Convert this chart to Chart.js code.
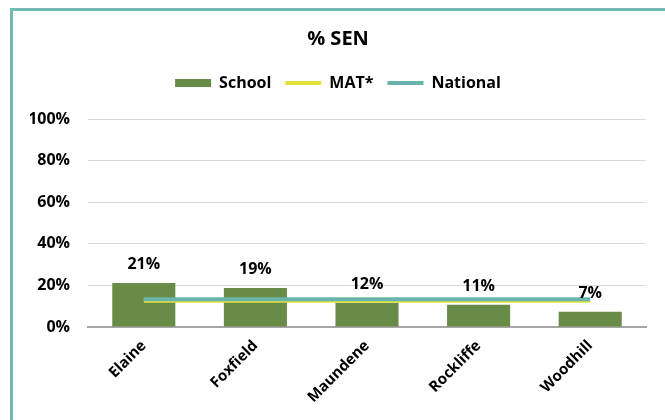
<!DOCTYPE html>
<html>
<head>
<meta charset="utf-8">
<script src="https://cdn.jsdelivr.net/npm/chart.js@4/dist/chart.umd.min.js"></script>
<style>
  html, body { margin: 0; padding: 0; background: #fff; }
  #wrap { position: relative; width: 665px; height: 420px; overflow: hidden; }
  #frame { position: absolute; left: 10px; top: 8px; width: 660px; height: 440px; border: 3px solid #72bab3; box-sizing: border-box; }
  #chart { position: absolute; left: 0; top: 0; }
</style>
</head>
<body>
<div id="wrap">
  <div id="frame"></div>
  <canvas id="chart" width="665" height="420"></canvas>
</div>
<script>
const categories = ['Elaine', 'Foxfield', 'Maundene', 'Rockliffe', 'Woodhill'];
const schoolValues = [21.2, 18.8, 11.6, 10.7, 7.3];
const matValues = [12.6, 12.6, 12.6, 12.6, 12.6];
const nationalValues = [13.3, 13.3, 13.3, 13.3, 13.3];
const yTicks = [0, 20, 40, 60, 80, 100];

const font = '"Open Sans", "DejaVu Sans", sans-serif';

// value labels above the bars
const barLabels = {
  id: 'barLabels',
  afterDatasetsDraw(chart) {
    const meta = chart.getDatasetMeta(0);
    const ctx = chart.ctx;
    ctx.save();
    ctx.font = 'bold 16px ' + font;
    ctx.fillStyle = '#000';
    ctx.textAlign = 'center';
    ctx.textBaseline = 'middle';
    meta.data.forEach((bar, i) => {
      ctx.fillText(Math.round(schoolValues[i]) + '%', bar.x, bar.y - 18);
    });
    ctx.restore();
  }
};

// extra room under the legend
const legendGap = {
  id: 'legendGap',
  beforeInit(chart) {
    const fit = chart.legend.fit;
    chart.legend.fit = function() {
      fit.bind(chart.legend)();
      this.height += 18;
    };
  }
};

new Chart(document.getElementById('chart'), {
  data: {
    labels: categories,
    datasets: [
      {
        type: 'bar',
        label: 'School',
        data: schoolValues,
        backgroundColor: '#688b47',
        borderWidth: 0,
        barPercentage: 0.565,
        categoryPercentage: 1,
        pointStyle: 'rect',
        order: 2
      },
      {
        type: 'line',
        label: 'MAT*',
        data: matValues,
        borderColor: '#e2e23a',
        backgroundColor: '#e2e23a',
        borderWidth: 4,
        pointRadius: 0,
        pointStyle: 'line',
        order: 1
      },
      {
        type: 'line',
        label: 'National',
        data: nationalValues,
        borderColor: '#68b3ab',
        backgroundColor: '#68b3ab',
        borderWidth: 4,
        pointRadius: 0,
        pointStyle: 'line',
        order: 0
      }
    ]
  },
  options: {
    responsive: false,
    animation: false,
    layout: { padding: { left: 30, right: 19, top: 19, bottom: 0 } },
    plugins: {
      title: {
        display: true,
        text: '% SEN',
        color: '#000',
        font: { family: font, size: 20, weight: 'bold' },
        padding: { top: 8, bottom: 10 }
      },
      legend: {
        position: 'top',
        labels: {
          color: '#000',
          font: { family: font, size: 16, weight: 'bold' },
          usePointStyle: true,
          pointStyleWidth: 36,
          boxHeight: 8,
          padding: 14,
          sort: (a, b) => a.datasetIndex - b.datasetIndex
        }
      },
      tooltip: { enabled: false }
    },
    scales: {
      x: {
        grid: { display: false, drawTicks: false },
        border: { color: '#a6a6a6', width: 2 },
        ticks: {
          color: '#000',
          font: { family: font, size: 15, weight: 'bold' },
          minRotation: 45,
          maxRotation: 45,
          padding: 10
        },
        afterFit(scale) { scale.height = 93; }
      },
      y: {
        min: 0,
        max: 100,
        grid: { color: '#d9d9d9', drawTicks: false },
        border: { display: false },
        afterBuildTicks(scale) { scale.ticks = yTicks.map(v => ({ value: v })); },
        ticks: {
          color: '#000',
          font: { family: font, size: 16, weight: 'bold' },
          padding: 18,
          callback: v => v + '%'
        },
        afterFit(scale) { scale.width = 58; }
      }
    }
  },
  plugins: [barLabels, legendGap]
});
</script>
</body>
</html>
